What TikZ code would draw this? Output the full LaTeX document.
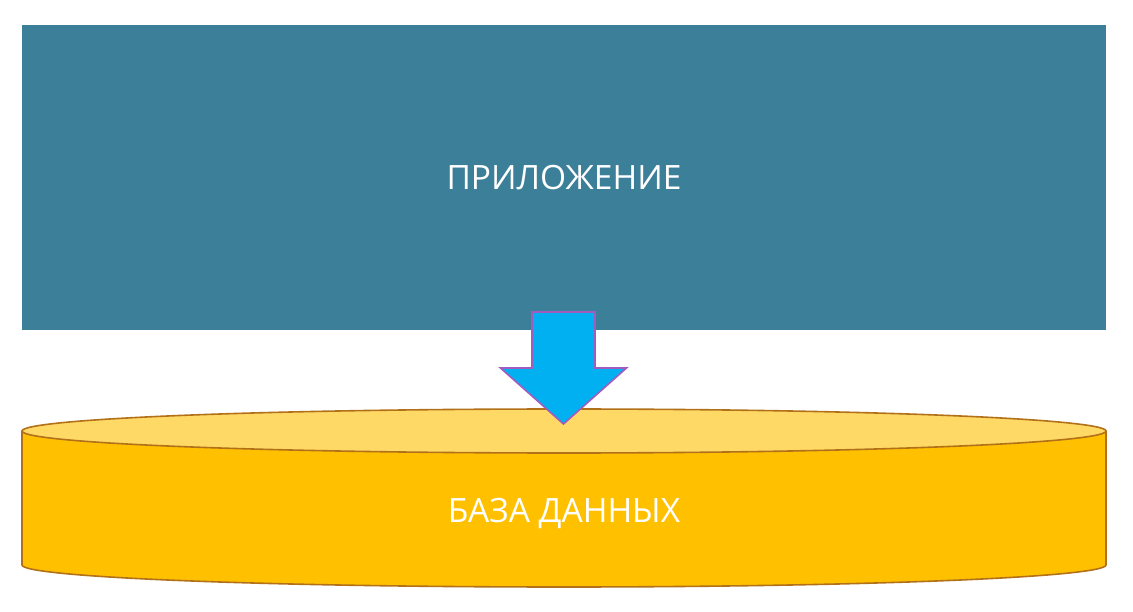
\documentclass[tikz,border=0pt]{standalone}
\usepackage{fontspec}
\setmainfont{Open Sans}
\usetikzlibrary{calc}
\definecolor{appTeal}{RGB}{59,127,153}
\definecolor{dbBody}{RGB}{255,192,0}
\definecolor{dbTop}{RGB}{255,217,102}
\definecolor{dbEdge}{RGB}{178,113,24}
\definecolor{arrowFill}{RGB}{0,176,240}
\definecolor{arrowEdge}{RGB}{160,92,190}
\begin{document}
\begin{tikzpicture}[x=1pt, y=1pt,
	labelText/.style={text=white, font=\fontsize{33.5}{38}\selectfont},
	dbLine/.style={draw=dbEdge, line width=1.6pt}]
\useasboundingbox (0,0) rectangle (1133,611);

\node[rectangle, fill=appTeal, minimum width=1084pt, minimum height=305pt, inner sep=0pt](appBox) at (564,433.5){};
	\node[labelText](appLabel) at (appBox.center){ПРИЛОЖЕНИЕ};

	\fill[dbBody] (22,180) -- (22,46) arc[start angle=180, end angle=360, x radius=542, y radius=22] -- (1106,180) -- cycle;
	\draw[dbLine] (22,180) -- (22,46) arc[start angle=180, end angle=360, x radius=542, y radius=22] -- (1106,180);
	\draw[dbLine, fill=dbTop] (564,180) ellipse[x radius=542, y radius=22];
	\node[labelText](dbLabel) at (564,98){БАЗА ДАННЫХ};

	\coordinate(arrowTop) at (563.5,299);
	\coordinate(arrowTip) at (563.5,187);
	\draw[fill=arrowFill, draw=arrowEdge, line width=1.6pt, line join=miter]
		($(arrowTop)+(-31.5,0)$) -- ($(arrowTop)+(31.5,0)$) -- ($(arrowTop)+(31.5,-56)$) -- ($(arrowTop)+(63,-56)$)
		-- (arrowTip) -- ($(arrowTop)+(-63,-56)$) -- ($(arrowTop)+(-31.5,-56)$) -- cycle;
\end{tikzpicture}
\end{document}
